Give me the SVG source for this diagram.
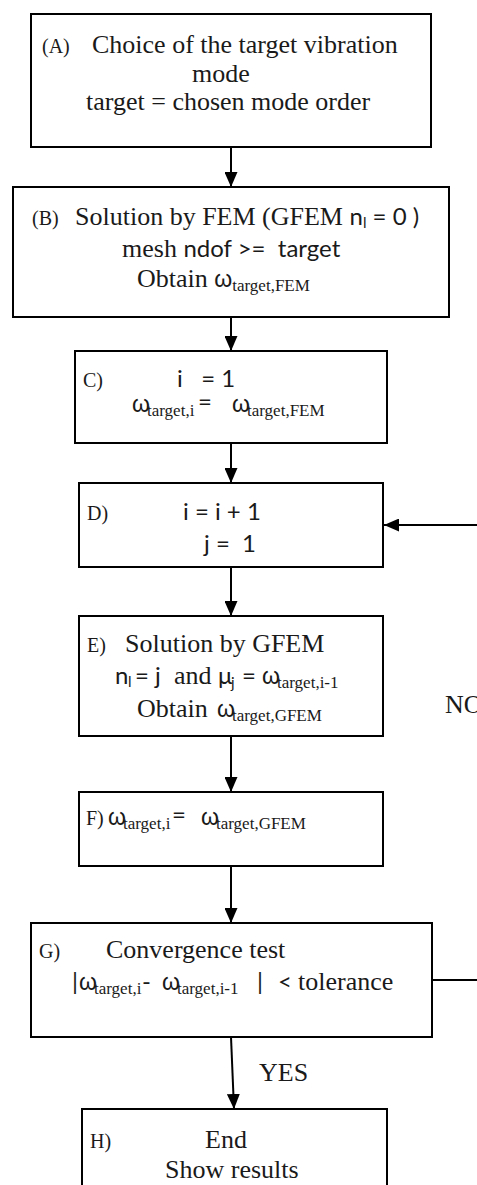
<svg xmlns="http://www.w3.org/2000/svg" width="477" height="1185" viewBox="0 0 477 1185">
<style>
.box{fill:#fff;stroke:#000;stroke-width:2}
.conn{fill:none;stroke:#000;stroke-width:2}
text{fill:#1a1a1a;font-family:"Liberation Serif",serif;font-size:26px}
.lbl{font-size:20px}
.sans{font-family:Lato,"Liberation Sans",sans-serif;font-size:24px}
.w{font-family:"Liberation Sans",sans-serif;font-size:23px}
.sub{font-family:"Liberation Serif",serif;font-size:17px}
.sub2{font-family:Lato,"Liberation Sans",sans-serif;font-size:15px}
</style>
<defs>
<marker id="ah" markerUnits="userSpaceOnUse" markerWidth="15" markerHeight="13" refX="15" refY="6.5" orient="auto">
<path d="M0,0 L15,6.5 L0,13 z" fill="#000"/>
</marker>
</defs>

<g id="connectors">
<line class="conn" x1="231" y1="147" x2="231" y2="187" marker-end="url(#ah)"/>
<line class="conn" x1="231" y1="317" x2="231" y2="351" marker-end="url(#ah)"/>
<line class="conn" x1="231" y1="443" x2="231" y2="483" marker-end="url(#ah)"/>
<line class="conn" x1="231" y1="567" x2="231" y2="616" marker-end="url(#ah)"/>
<line class="conn" x1="231" y1="736" x2="231" y2="792" marker-end="url(#ah)"/>
<line class="conn" x1="231" y1="866" x2="231" y2="923" marker-end="url(#ah)"/>
<line class="conn" x1="231" y1="1037" x2="234" y2="1109" marker-end="url(#ah)"/>
<path class="conn" d="M432,980 H492 V525 H384" marker-end="url(#ah)"/>
<text x="259" y="1081" font-size="24">YES</text>
<text x="445" y="713" font-size="24">NO</text>
</g>

<g id="nodeA">
<rect class="box" x="31" y="14" width="400" height="133"/>
<text class="lbl" x="42" y="53">(A)</text>
<text x="92" y="53">Choice of the target vibration</text>
<text x="192" y="82">mode</text>
<text x="86" y="110">target = chosen mode order</text>
</g>

<g id="nodeB">
<rect class="box" x="13" y="187" width="436" height="130"/>
<text class="lbl" x="32" y="225">(B)</text>
<text x="75" y="225">Solution by FEM (GFEM <tspan class="sans">n</tspan><tspan class="sub2" dy="3">l</tspan><tspan class="sans" dy="-3"> = 0 )</tspan></text>
<text x="122" y="257" xml:space="preserve">mesh <tspan class="sans">ndof &gt;=  target</tspan></text>
<text x="137" y="287">Obtain <tspan class="w">ω</tspan><tspan class="sub" dy="4">target,FEM</tspan></text>
</g>

<g id="nodeC">
<rect class="box" x="75" y="351" width="312" height="92"/>
<text class="lbl" x="83" y="387">C)</text>
<text class="sans" x="177" y="387" xml:space="preserve">i   = 1</text>
<text x="132" y="412"><tspan class="w">ω</tspan><tspan class="sub" x="147" y="416">target,i</tspan><tspan class="sans" x="198" y="410">=</tspan><tspan class="w" x="232" y="412">ω</tspan><tspan class="sub" x="247" y="416">target,FEM</tspan></text>
</g>

<g id="nodeD">
<rect class="box" x="79" y="483" width="304" height="84"/>
<text class="lbl" x="87" y="520">D)</text>
<text class="sans" x="183" y="520">i = i + 1</text>
<text class="sans" x="204" y="552" xml:space="preserve">j =  1</text>
</g>

<g id="nodeE">
<rect class="box" x="79" y="616" width="304" height="120"/>
<text class="lbl" x="87" y="652">E)</text>
<text x="125" y="652">Solution by GFEM</text>
<text x="115" y="684"><tspan class="sans">n</tspan><tspan class="sub2" x="128" y="687">l</tspan><tspan class="sans" x="135" y="684">= j</tspan><tspan x="174" y="684">and</tspan><tspan class="sans" x="218" y="684">μ</tspan><tspan class="sub2" x="231" y="688">j</tspan><tspan class="sans" x="242" y="684">=</tspan><tspan class="w" x="262" y="684">ω</tspan><tspan class="sub" x="277" y="688">target,i-1</tspan></text>
<text x="137" y="717">Obtain<tspan class="w" x="217" y="717">ω</tspan><tspan class="sub" x="232" y="721">target,GFEM</tspan></text>
</g>

<g id="nodeF">
<rect class="box" x="79" y="792" width="304" height="74"/>
<text class="lbl" x="86" y="825">F)</text>
<text x="108" y="825"><tspan class="w">ω</tspan><tspan class="sub" x="123" y="829">target,i</tspan><tspan class="sans" x="172" y="823">=</tspan><tspan class="w" x="201" y="825">ω</tspan><tspan class="sub" x="216" y="829">target,GFEM</tspan></text>
</g>

<g id="nodeG">
<rect class="box" x="31" y="923" width="401" height="114"/>
<text class="lbl" x="39" y="958">G)</text>
<text x="106" y="958">Convergence test</text>
<text x="72" y="990"><tspan class="sans">|</tspan><tspan class="w" x="79" y="990">ω</tspan><tspan class="sub" x="94" y="994">target,i</tspan><tspan class="sans" x="142" y="990">-</tspan><tspan class="w" x="162" y="990">ω</tspan><tspan class="sub" x="177" y="994">target,i-1</tspan><tspan class="sans" x="257" y="990">|</tspan><tspan class="sans" x="278" y="990">&lt;</tspan><tspan x="298" y="990">tolerance</tspan></text>
</g>

<g id="nodeH">
<rect class="box" x="82" y="1109" width="305" height="100"/>
<text class="lbl" x="90" y="1148">H)</text>
<text x="205" y="1148">End</text>
<text x="165" y="1178">Show results</text>
</g>
</svg>
